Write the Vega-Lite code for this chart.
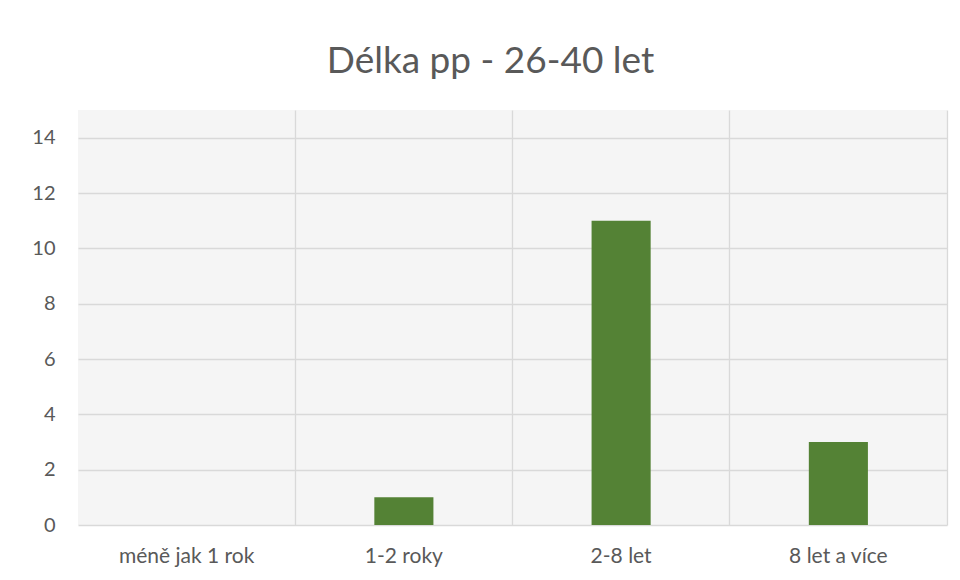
{
  "$schema": "https://vega.github.io/schema/vega-lite/v6.json",
  "autosize": "none",
  "width": 869,
  "height": 415,
  "padding": {"left": 78, "top": 110, "right": 13, "bottom": 55},
  "background": "white",
  "config": {
    "font": "Lato",
    "view": {"fill": "#f5f5f5", "stroke": null},
    "axis": {"gridColor": "#d9d9d9", "gridWidth": 1.3, "domain": false, "ticks": false, "labelColor": "#595959", "labelFont": "Lato", "labelFontSize": 20, "title": null}
  },
  "title": {"text": "Délka pp - 26-40 let", "fontSize": 37, "font": "Lato", "fontWeight": "normal", "color": "#595959", "anchor": "middle", "baseline": "alphabetic", "offset": 0, "dx": -22},
  "data": {"values": [
    {"cat": "méně jak 1 rok", "count": 0},
    {"cat": "1-2 roky", "count": 1},
    {"cat": "2-8 let", "count": 11},
    {"cat": "8 let a více", "count": 3}
  ]},
  "layer": [
    {
      "mark": {"type": "bar", "opacity": 0},
      "encoding": {
        "x": {"field": "cat", "type": "nominal", "sort": null, "scale": {"paddingInner": 0, "paddingOuter": 0}, "axis": {"orient": "bottom", "bandPosition": 1, "labels": false, "grid": true}},
        "y": {"field": "count", "type": "quantitative", "scale": {"domain": [0, 15], "nice": false}, "axis": {"values": [0, 2, 4, 6, 8, 10, 12, 14], "grid": true, "labelPadding": 23}}
      }
    },
    {
      "mark": {"type": "bar", "color": "#548235", "width": {"band": 0.272}},
      "encoding": {
        "x": {"field": "cat", "type": "nominal", "sort": null, "axis": {"orient": "bottom", "grid": false, "labelPadding": 20, "labelAngle": 0, "labelFontSize": 21}},
        "y": {"field": "count", "type": "quantitative", "axis": null}
      }
    }
  ],
  "resolve": {"axis": {"x": "independent", "y": "independent"}}
}
